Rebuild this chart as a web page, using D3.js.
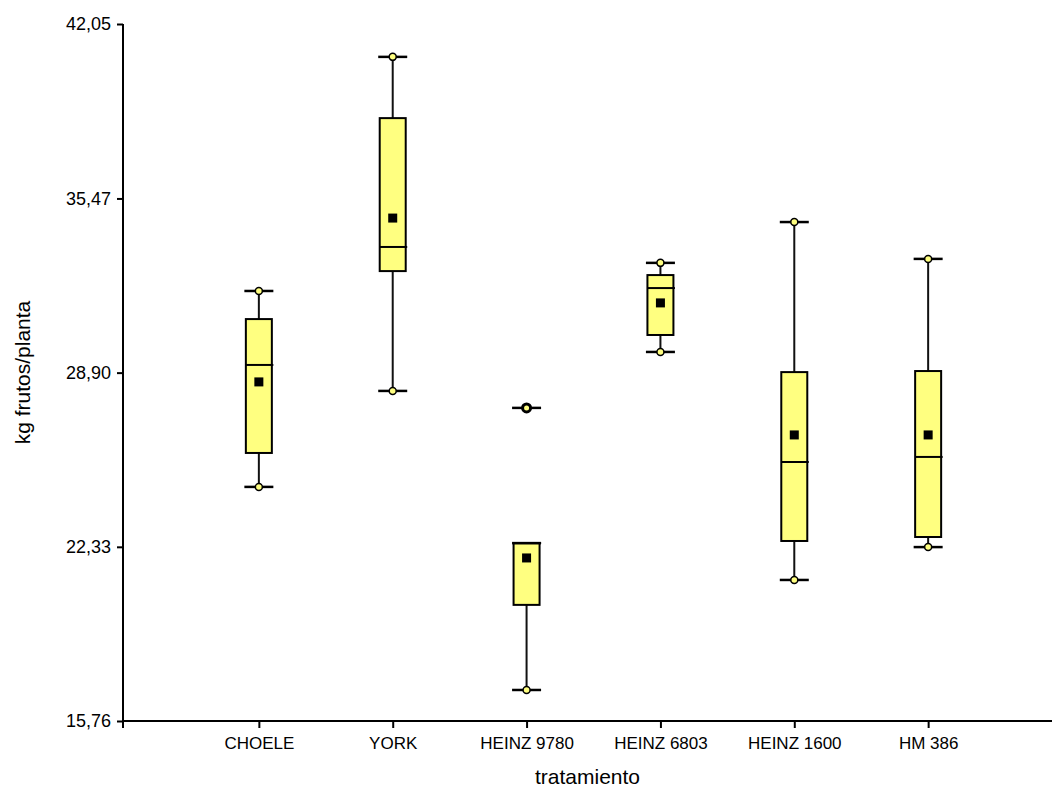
<!DOCTYPE html>
<html>
<head>
<meta charset="utf-8">
<script src="https://cdn.jsdelivr.net/npm/d3@7"></script>
<style>
  body { margin: 0; background: #fff; }
  svg { display: block; font-family: "Liberation Sans", Arial, sans-serif; }
  .axis path, .axis line { stroke: #000; stroke-width: 2px; }
  .axis text { fill: #000; font-size: 18px; }
</style>
</head>
<body>
<script>
(function(){
  //data
  var categories = ["CHOELE", "YORK", "HEINZ 9780", "HEINZ 6803", "HEINZ 1600", "HM 386"];
  var minVals  = [24.59, 28.21, 16.93, 29.68, 21.08, 22.32];
  var q1Vals   = [25.87, 32.73, 20.14, 30.32, 22.55, 22.70];
  var medVals  = [29.19, 33.64, 22.47, 32.09, 25.53, 25.72];
  var q3Vals   = [30.92, 38.50, 22.47, 32.58, 28.92, 28.96];
  var maxVals  = [31.98, 40.81, 22.47, 33.04, 34.58, 33.19];
  var meanVals = [28.55, 34.73, 21.91, 31.53, 26.55, 26.55];
  var outliers = [null, null, 27.57, null, null, null];
  var yTicks = [15.76, 22.33, 28.90, 35.47, 42.05];

  var width = 1052, height = 789;
  var left = 123, bottom = 721, top = 24;
  var boxW = 26, capW = 29;

  var svg = d3.select("body").append("svg")
      .attr("width", width)
      .attr("height", height);

  var x = d3.scalePoint()
      .domain(categories)
      .range([125, 1062])
      .padding(1);

  var y = d3.scaleLinear()
      .domain([15.76, 42.05])
      .range([bottom, top]);

  var locale = d3.formatLocale({decimal: ",", thousands: ".", grouping: [3], currency: ["", ""]});
  var fmt = locale.format(".2f");

  //y axis
  var yAxis = svg.append("g")
      .attr("class", "axis")
      .attr("transform", "translate(" + left + ",0)")
      .call(d3.axisLeft(y).tickValues(yTicks).tickSize(6).tickSizeOuter(0).tickPadding(6).tickFormat(fmt));
  yAxis.select(".domain").remove();
  yAxis.append("line")
      .attr("x1", 0).attr("x2", 0)
      .attr("y1", top).attr("y2", bottom + 7);

  //x axis
  var xAxis = svg.append("g")
      .attr("class", "axis")
      .attr("transform", "translate(0," + bottom + ")")
      .call(d3.axisBottom(x).tickSize(7).tickSizeOuter(0).tickPadding(9));
  xAxis.select(".domain").remove();
  xAxis.selectAll("text").style("font-size", "17px");
  xAxis.append("line")
      .attr("x1", left).attr("x2", width)
      .attr("y1", 0).attr("y2", 0);

  //axis titles
  svg.append("text")
      .attr("x", (left + width) / 2)
      .attr("y", 784)
      .attr("text-anchor", "middle")
      .style("font-size", "21px")
      .text("tratamiento");

  svg.append("text")
      .attr("transform", "translate(30," + ((top + bottom) / 2) + ") rotate(-90)")
      .attr("text-anchor", "middle")
      .style("font-size", "21px")
      .text("kg frutos/planta");

  //boxes
  var groups = svg.selectAll(".box")
      .data(categories)
      .enter()
      .append("g")
      .attr("class", "box")
      .attr("transform", function(d){ return "translate(" + x(d) + ",0)"; });

  //whiskers
  groups.filter(function(d, i){ return maxVals[i] > q3Vals[i]; })
      .append("line")
      .attr("y1", function(d){ var i = categories.indexOf(d); return y(q3Vals[i]); })
      .attr("y2", function(d){ var i = categories.indexOf(d); return y(maxVals[i]); })
      .attr("stroke", "#111").attr("stroke-width", 2);
  groups.filter(function(d, i){ return minVals[i] < q1Vals[i]; })
      .append("line")
      .attr("y1", function(d){ var i = categories.indexOf(d); return y(q1Vals[i]); })
      .attr("y2", function(d){ var i = categories.indexOf(d); return y(minVals[i]); })
      .attr("stroke", "#111").attr("stroke-width", 2);

  groups.append("rect")
      .attr("x", -boxW / 2)
      .attr("width", boxW)
      .attr("y", function(d, i){ return y(q3Vals[i]); })
      .attr("height", function(d, i){ return y(q1Vals[i]) - y(q3Vals[i]); })
      .attr("fill", "#ffff80")
      .attr("stroke", "#000")
      .attr("stroke-width", 2);

  //median
  groups.append("line")
      .attr("x1", -boxW / 2).attr("x2", capW / 2)
      .attr("y1", function(d, i){ return y(medVals[i]); })
      .attr("y2", function(d, i){ return y(medVals[i]); })
      .attr("stroke", "#000").attr("stroke-width", 2);

  //caps
  ["max", "min"].forEach(function(k){
    var vals = k == "max" ? maxVals : minVals;
    var other = k == "max" ? q3Vals : q1Vals;
    groups.append("line")
        .attr("x1", -capW / 2).attr("x2", capW / 2)
        .attr("y1", function(d, i){ return y(vals[i]); })
        .attr("y2", function(d, i){ return y(vals[i]); })
        .attr("stroke", "#000").attr("stroke-width", 2.5);
    groups.filter(function(d, i){ return vals[i] != other[i]; })
        .append("circle")
        .attr("cy", function(d){ return y(vals[categories.indexOf(d)]); })
        .attr("r", 3.5)
        .attr("fill", "#ffff80")
        .attr("stroke", "#000")
        .attr("stroke-width", 1.5);
  });

  //outliers
  var outG = groups.filter(function(d, i){ return outliers[i] != null; });
  outG.append("line")
      .attr("x1", -capW / 2).attr("x2", capW / 2)
      .attr("y1", function(d){ return y(outliers[categories.indexOf(d)]); })
      .attr("y2", function(d){ return y(outliers[categories.indexOf(d)]); })
      .attr("stroke", "#000").attr("stroke-width", 2.5);
  outG.append("circle")
      .attr("cy", function(d){ return y(outliers[categories.indexOf(d)]); })
      .attr("r", 4)
      .attr("fill", "#ffff80")
      .attr("stroke", "#000")
      .attr("stroke-width", 3);

  //means
  groups.append("rect")
      .attr("x", -4.5).attr("width", 9)
      .attr("y", function(d, i){ return y(meanVals[i]) - 4.5; })
      .attr("height", 9)
      .attr("fill", "#000");
})();
</script>
</body>
</html>
